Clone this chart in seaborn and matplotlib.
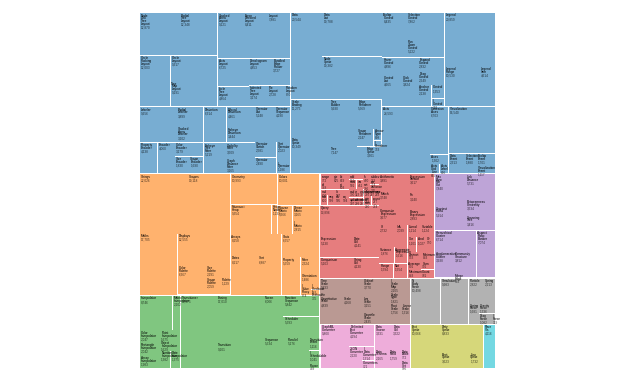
import re
import math
import matplotlib
matplotlib.use("Agg")
import matplotlib.pyplot as plt
from matplotlib.patches import Rectangle
import seaborn as sns

# ---------------------- data: flare class sizes, one pair of lists per package ----------------------
analytics_names = ["cluster/AgglomerativeCluster", "cluster/CommunityStructure", "cluster/HierarchicalCluster",
                   "cluster/MergeEdge", "graph/BetweennessCentrality", "graph/LinkDistance", "graph/MaxFlowMinCut",
                   "graph/ShortestPaths", "graph/SpanningTree", "optimization/AspectRatioBanker"]
analytics_sizes = [3938, 3812, 6714, 743, 3534, 5731, 7840, 5914, 3416, 7074]

animate_names = ["Easing", "FunctionSequence", "interpolate/ArrayInterpolator", "interpolate/ColorInterpolator",
                 "interpolate/DateInterpolator", "interpolate/Interpolator", "interpolate/MatrixInterpolator",
                 "interpolate/NumberInterpolator", "interpolate/ObjectInterpolator", "interpolate/PointInterpolator",
                 "interpolate/RectangleInterpolator", "ISchedulable", "Parallel", "Pause", "Scheduler", "Sequence",
                 "Transition", "Transitioner", "TransitionEvent", "Tween"]
animate_sizes = [17010, 5842, 1983, 2047, 1375, 8746, 2202, 1382, 1629, 1675, 2042, 1041, 5176, 449, 5593, 5534,
                 9201, 19975, 1116, 6006]

data_names = ["converters/Converters", "converters/DelimitedTextConverter", "converters/GraphMLConverter",
              "converters/IDataConverter", "converters/JSONConverter", "DataField", "DataSchema", "DataSet",
              "DataSource", "DataTable", "DataUtil"]
data_sizes = [721, 4294, 9800, 1314, 2220, 1759, 2165, 586, 3331, 772, 3322]

display_names = ["DirtySprite", "LineSprite", "RectSprite", "TextSprite"]
display_sizes = [8833, 1732, 3623, 10066]

flex_names = ["FlareVis"]
flex_sizes = [4116]

physics_names = ["DragForce", "GravityForce", "IForce", "NBodyForce", "Particle", "Simulation", "Spring", "SpringForce"]
physics_sizes = [1082, 1336, 319, 10498, 2822, 9983, 2213, 1681]

query_names = ["AggregateExpression", "And", "Arithmetic", "Average", "BinaryExpression", "Comparison",
               "CompositeExpression", "Count", "DateUtil", "Distinct", "Expression", "ExpressionIterator", "Fn",
               "If", "IsA", "Literal", "Match", "Maximum",
               "methods/add", "methods/and", "methods/average", "methods/count", "methods/distinct", "methods/div",
               "methods/eq", "methods/fn", "methods/gt", "methods/gte", "methods/iff", "methods/isa", "methods/lt",
               "methods/lte", "methods/max", "methods/min", "methods/mod", "methods/mul", "methods/neq",
               "methods/not", "methods/or", "methods/orderby", "methods/range", "methods/select", "methods/stddev",
               "methods/sub", "methods/sum", "methods/update", "methods/variance", "methods/where", "methods/xor",
               "methods/_",
               "Minimum", "Not", "Or", "Query", "Range", "StringUtil", "Sum", "Variable", "Variance", "Xor"]
query_sizes = [1616, 1027, 3891, 891, 2893, 5103, 3677, 781, 4141, 933, 5130, 3617, 3240, 2732, 2039, 1214, 3748,
               843,
               593, 330, 287, 277, 292, 595, 594, 460, 603, 625, 748, 461, 597, 619, 283, 283, 591, 603, 599, 386,
               323, 307, 772, 296, 363, 600, 280, 307, 335, 299, 354, 264,
               843, 1554, 970, 13896, 1594, 4130, 791, 1124, 1876, 1101]

scale_names = ["IScaleMap", "LinearScale", "LogScale", "OrdinalScale", "QuantileScale", "QuantitativeScale",
               "RootScale", "Scale", "ScaleType", "TimeScale"]
scale_sizes = [2105, 1316, 3151, 3770, 2435, 4839, 1756, 4268, 1821, 5833]

util_names = ["Arrays", "Colors", "Dates", "Displays", "Filter", "Geometry", "heap/FibonacciHeap", "heap/HeapNode",
              "IEvaluable", "IPredicate", "IValueProxy", "math/DenseMatrix", "math/IMatrix", "math/SparseMatrix",
              "Maths", "Orientation", "palette/ColorPalette", "palette/Palette", "palette/ShapePalette",
              "palette/SizePalette", "Property", "Shapes", "Sort", "Stats", "Strings"]
util_sizes = [8258, 10001, 8217, 12555, 2324, 10993, 9354, 1233, 335, 383, 874, 3165, 2815, 3366, 17705, 1486,
              6367, 1229, 2059, 2291, 5559, 19118, 6887, 6557, 22026]

vis_names = ["axis/Axes", "axis/Axis", "axis/AxisGridLine", "axis/AxisLabel", "axis/CartesianAxes",
             "controls/AnchorControl", "controls/ClickControl", "controls/Control", "controls/ControlList",
             "controls/DragControl", "controls/ExpandControl", "controls/HoverControl", "controls/IControl",
             "controls/PanZoomControl", "controls/SelectionControl", "controls/TooltipControl",
             "data/Data", "data/DataList", "data/DataSprite", "data/EdgeSprite", "data/NodeSprite",
             "data/render/ArrowType", "data/render/EdgeRenderer", "data/render/IRenderer",
             "data/render/ShapeRenderer", "data/ScaleBinding", "data/Tree", "data/TreeBuilder",
             "events/DataEvent", "events/SelectionEvent", "events/TooltipEvent", "events/VisualizationEvent",
             "legend/Legend", "legend/LegendItem", "legend/LegendRange",
             "operator/distortion/BifocalDistortion", "operator/distortion/Distortion",
             "operator/distortion/FisheyeDistortion",
             "operator/encoder/ColorEncoder", "operator/encoder/Encoder", "operator/encoder/PropertyEncoder",
             "operator/encoder/ShapeEncoder", "operator/encoder/SizeEncoder",
             "operator/filter/FisheyeTreeFilter", "operator/filter/GraphDistanceFilter",
             "operator/filter/VisibilityFilter", "operator/IOperator",
             "operator/label/Labeler", "operator/label/RadialLabeler", "operator/label/StackedAreaLabeler",
             "operator/layout/AxisLayout", "operator/layout/BundledEdgeRouter", "operator/layout/CircleLayout",
             "operator/layout/CirclePackingLayout", "operator/layout/DendrogramLayout",
             "operator/layout/ForceDirectedLayout", "operator/layout/IcicleTreeLayout",
             "operator/layout/IndentedTreeLayout", "operator/layout/Layout", "operator/layout/NodeLinkTreeLayout",
             "operator/layout/PieLayout", "operator/layout/RadialTreeLayout", "operator/layout/RandomLayout",
             "operator/layout/StackedAreaLayout", "operator/layout/TreeMapLayout",
             "operator/Operator", "operator/OperatorList", "operator/OperatorSequence", "operator/OperatorSwitch",
             "operator/SortOperator", "Visualization"]
vis_sizes = [1302, 24593, 652, 636, 6703,
             2138, 3824, 1353, 4665, 2649, 2832, 4896, 763, 5222, 7862, 8435,
             20544, 19788, 10349, 3301, 19382, 698, 5569, 353, 2247, 11275, 7147, 9930,
             2313, 1880, 1701, 1117,
             20859, 4614, 10530,
             4461, 6314, 3444, 3179, 4060, 4138, 1690, 1830, 5219, 3165, 3509, 1286, 9956, 3899, 3202,
             6725, 3727, 9317, 12003, 4853, 8411, 4864, 3174, 7881, 12870, 2728, 12348, 870, 9121, 9191,
             2490, 5248, 4190, 2581, 2023, 16540]

packages = [("analytics", analytics_names, analytics_sizes), ("animate", animate_names, animate_sizes),
            ("data", data_names, data_sizes), ("display", display_names, display_sizes),
            ("flex", flex_names, flex_sizes), ("physics", physics_names, physics_sizes),
            ("query", query_names, query_sizes), ("scale", scale_names, scale_sizes),
            ("util", util_names, util_sizes), ("vis", vis_names, vis_sizes)]

SIZE = 1154.0


# ---------------------- hierarchy ----------------------
class Node:
    def __init__(self, name, depth, parent=None):
        self.name = name
        self.depth = depth
        self.parent = parent
        self.children = []
        self.size = 0
        self.value = 0
        self.x0 = self.y0 = self.x1 = self.y1 = 0.0


def build_tree():
    root = Node("flare", 0)
    for pkg, names, sizes in packages:
        top = Node(pkg, 1, root)
        root.children.append(top)
        for path, size in zip(names, sizes):
            node = top
            for part in path.split("/"):
                found = [c for c in node.children if c.name == part]
                if found:
                    node = found[0]
                else:
                    child = Node(part, node.depth + 1, node)
                    node.children.append(child)
                    node = child
            node.size = size
    return root


def sum_sort(node):
    if node.children:
        node.value = sum(sum_sort(c) for c in node.children)
        node.children = sorted(node.children, key=lambda c: c.value, reverse=True)
    else:
        node.value = node.size
    return node.value


# binary tiling (balanced split by value, along the longer side)
def binary(parent, x0, y0, x1, y1):
    nodes = parent.children
    n = len(nodes)
    sums = [0]
    for c in nodes:
        sums.append(sums[-1] + c.value)

    def partition(i, j, value, x0, y0, x1, y1):
        if i >= j - 1:
            nd = nodes[i]
            nd.x0, nd.y0, nd.x1, nd.y1 = x0, y0, x1, y1
            return
        offset = sums[i]
        target = value / 2 + offset
        k, hi = i + 1, j - 1
        while k < hi:
            mid = (k + hi) // 2
            if sums[mid] < target:
                k = mid + 1
            else:
                hi = mid
        if (target - sums[k - 1]) < (sums[k] - target) and i + 1 < k:
            k -= 1
        vleft = sums[k] - offset
        vright = value - vleft
        if (x1 - x0) > (y1 - y0):
            xk = (x0 * vright + x1 * vleft) / value if value else x1
            partition(i, k, vleft, x0, y0, xk, y1)
            partition(k, j, vright, xk, y0, x1, y1)
        else:
            yk = (y0 * vright + y1 * vleft) / value if value else y1
            partition(i, k, vleft, x0, y0, x1, yk)
            partition(k, j, vright, x0, yk, x1, y1)

    partition(0, n, parent.value, x0, y0, x1, y1)


def position(node, pad):
    x0, y0, x1, y1 = node.x0 + pad, node.y0 + pad, node.x1 - pad, node.y1 - pad
    if x1 < x0:
        x0 = x1 = (x0 + x1) / 2
    if y1 < y0:
        y0 = y1 = (y0 + y1) / 2
    node.x0, node.y0, node.x1, node.y1 = x0, y0, x1, y1
    if node.children:
        p = 0.5  # padding 1 -> half of inner padding on each side
        x0 += 1 - p
        y0 += 1 - p
        x1 -= 1 - p
        y1 -= 1 - p
        if x1 < x0:
            x0 = x1 = (x0 + x1) / 2
        if y1 < y0:
            y0 = y1 = (y0 + y1) / 2
        binary(node, x0, y0, x1, y1)
        for c in node.children:
            position(c, p)


def leaves(node):
    if not node.children:
        return [node]
    out = []
    for c in node.children:
        out.extend(leaves(c))
    return out


def jround(v):
    return math.floor(v + 0.5)


root = build_tree()
sum_sort(root)
root.x0, root.y0, root.x1, root.y1 = 0.0, 0.0, SIZE, SIZE
position(root, 0)

# ---------------------- drawing ----------------------
sns.set_theme(style="white")
plt.rcParams["font.family"] = ["Liberation Sans", "DejaVu Sans"]
palette = sns.color_palette("tab10", 10)
top_color = {c.name: palette[i] for i, c in enumerate(root.children)}

fig = plt.figure(figsize=(6.35, 3.8), dpi=100)
side = 357
ax = fig.add_axes([139 / 635, 1 - (12 + side) / 380, side / 635, side / 380])
ax.set_xlim(0, SIZE)
ax.set_ylim(SIZE, 0)
ax.axis("off")

unit_px = side / SIZE
font_pt = 10 * unit_px * 72 / 100

for leaf in leaves(root):
    top = leaf
    while top.depth > 1:
        top = top.parent
    x0, y0, x1, y1 = jround(leaf.x0), jround(leaf.y0), jround(leaf.x1), jround(leaf.y1)
    rect = Rectangle((x0, y0), x1 - x0, y1 - y0, facecolor=top_color[top.name], alpha=0.6,
                     edgecolor="none", linewidth=0)
    ax.add_patch(rect)
    parts = [s for s in re.split(r"(?=[A-Z][a-z])|\s+", leaf.name) if s]
    parts.append(f"{leaf.value:,d}")
    for i, s in enumerate(parts):
        last = i == len(parts) - 1
        dy_em = (0.3 if last else 0) + 1.1 + i * 0.9
        t = ax.text(x0 + 3, y0 + dy_em * 10, s, fontsize=font_pt, color="black",
                    alpha=0.7 if last else 1.0, ha="left", va="baseline")
        t.set_clip_path(rect)

fig.savefig("out.png", dpi=100)
